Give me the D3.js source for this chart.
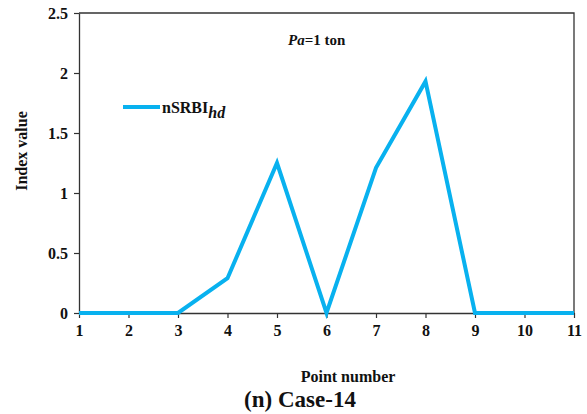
<!DOCTYPE html>
<html>
<head>
<meta charset="utf-8">
<script src="https://cdn.jsdelivr.net/npm/d3@7"></script>
<style>
  html, body { margin: 0; padding: 0; background: #fff; }
  svg { display: block; }
  svg text { font-family: "Times New Roman", "Liberation Serif", Tinos, "Nimbus Roman", serif; fill: #111; font-weight: bold; }
</style>
</head>
<body>
<svg id="chart" width="587" height="414"></svg>
<script>
// Point numbers along the section and the normalised index at each point
const points = [1, 2, 3, 4, 5, 6, 7, 8, 9, 10, 11];
const indexValues = [0, 0, 0, 0.29, 1.25, 0, 1.21, 1.93, 0, 0, 0];
const yTicks = [0, 0.5, 1, 1.5, 2, 2.5];
const yTickLabels = ["0", "0.5", "1", "1.5", "2", "2.5"];

const svg = d3.select("#chart");
const margin = { left: 79, right: 13, top: 13, bottom: 101 };
const W = 587, H = 414;

const x = d3.scaleLinear().domain([1, 11]).range([margin.left, W - margin.right]);
const y = d3.scaleLinear().domain([0, 2.5]).range([H - margin.bottom, margin.top]);

const axisColor = "#333";
const lineColor = "#08B1EF";

// plot frame (top and right edges)
svg.append("path")
  .attr("d", `M${x(1)},${y(2.5)}H${x(11)}V${y(0)}`)
  .attr("fill", "none").attr("stroke", axisColor).attr("stroke-width", 1.3);

// x axis
const xAxis = svg.append("g")
  .attr("transform", `translate(0,${y(0)})`)
  .call(d3.axisBottom(x).tickValues(points).tickFormat(d3.format("d")).tickSize(5).tickSizeOuter(0));
xAxis.select(".domain").attr("stroke", axisColor).attr("stroke-width", 1.3);
xAxis.selectAll(".tick line").attr("stroke", axisColor).attr("stroke-width", 1.2);
xAxis.selectAll(".tick text")
  .attr("y", 12).style("font-size", "16px");

// y axis
const yAxis = svg.append("g")
  .attr("transform", `translate(${x(1)},0)`)
  .call(d3.axisLeft(y).tickValues(yTicks).tickFormat((d, i) => yTickLabels[i]).tickSize(5).tickSizeOuter(0));
yAxis.select(".domain").attr("stroke", axisColor).attr("stroke-width", 1.3);
yAxis.selectAll(".tick line").attr("stroke", axisColor).attr("stroke-width", 1.2);
yAxis.selectAll(".tick text")
  .attr("x", -11).style("font-size", "16px");

// data line
const line = d3.line().x((d, i) => x(points[i])).y(d => y(d));
svg.append("path")
  .datum(indexValues)
  .attr("d", line)
  .attr("fill", "none")
  .attr("stroke", lineColor)
  .attr("stroke-width", 4)
  .attr("stroke-linejoin", "miter");

// legend
svg.append("line")
  .attr("x1", 123).attr("x2", 160).attr("y1", 107).attr("y2", 107)
  .attr("stroke", lineColor).attr("stroke-width", 4);
const leg = svg.append("text").attr("x", 162).attr("y", 113)
  .style("font-size", "16px");
leg.append("tspan").text("nSRBI");
leg.append("tspan").attr("font-style", "italic").attr("dy", 5).text("hd");

// load annotation
const ann = svg.append("text").attr("x", 288).attr("y", 45)
  .style("font-size", "15px");
ann.append("tspan").attr("font-style", "italic").text("Pa");
ann.append("tspan").text("=1 ton");

// axis titles
svg.append("text")
  .attr("x", 348).attr("y", 382)
  .attr("text-anchor", "middle")
  .style("font-size", "16px")
  .text("Point number");

svg.append("text")
  .attr("transform", `translate(27,151) rotate(-90)`)
  .attr("text-anchor", "middle")
  .style("font-size", "16px")
  .text("Index value");

// caption
svg.append("text")
  .attr("x", 300).attr("y", 407)
  .attr("text-anchor", "middle")
  .style("font-size", "23px")
  .text("(n) Case-14");
</script>
</body>
</html>
